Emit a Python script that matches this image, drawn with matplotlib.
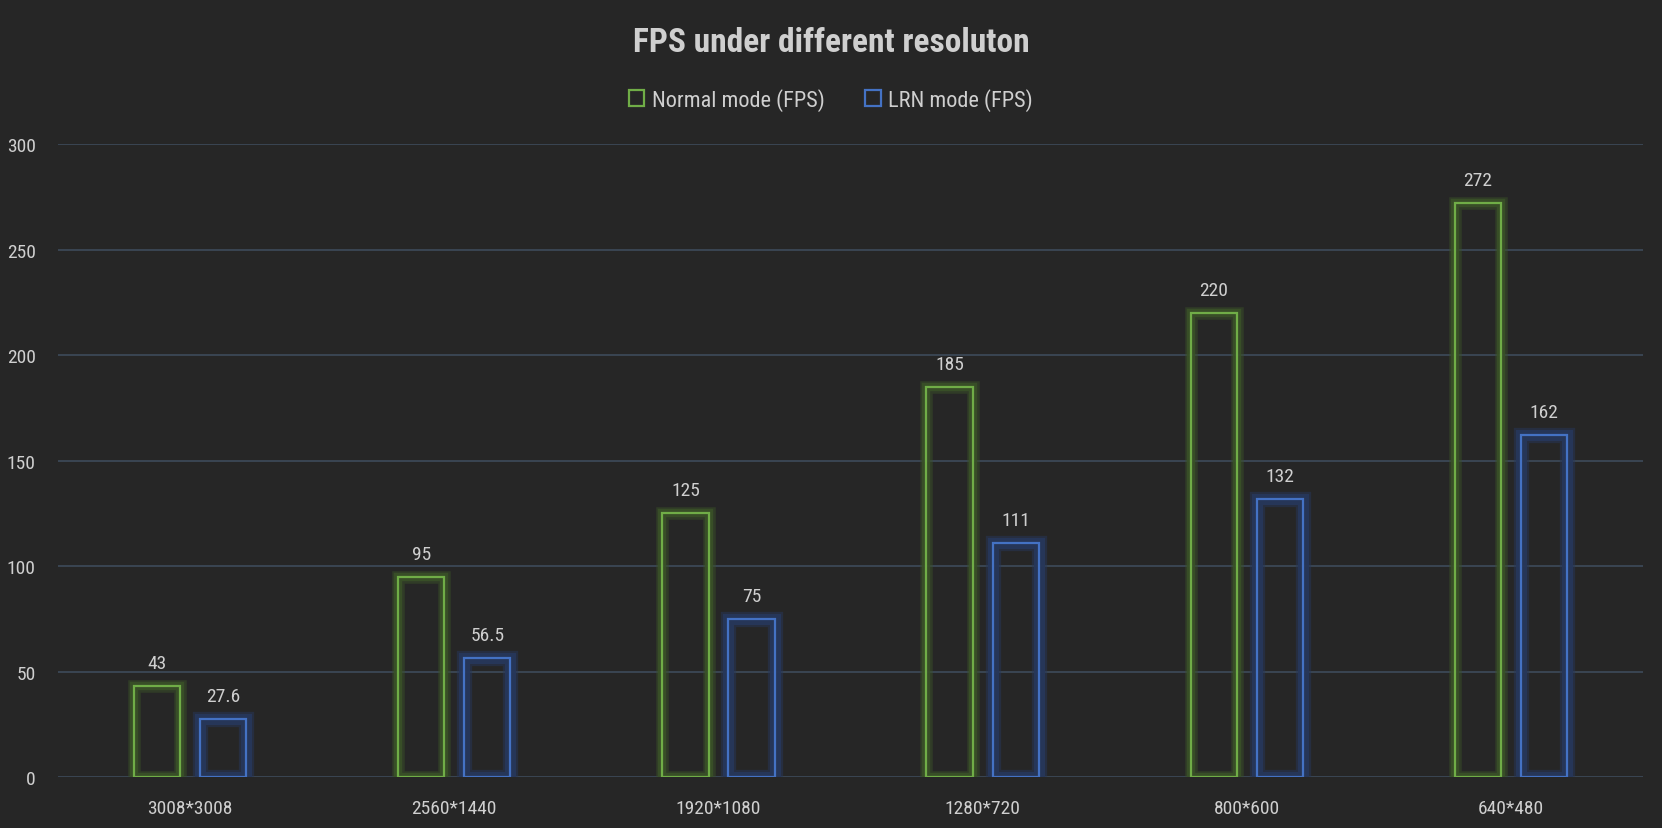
import matplotlib.pyplot as plt
from matplotlib.patches import Patch
import numpy as np

# data
resolutions = ['3008*3008', '2560*1440', '1920*1080', '1280*720', '800*600', '640*480']
normal_fps = [43, 95, 125, 185, 220, 272]
lrn_fps = [27.6, 56.5, 75, 111, 132, 162]
value_labels_normal = ['43', '95', '125', '185', '220', '272']
value_labels_lrn = ['27.6', '56.5', '75', '111', '132', '162']
y_ticks = [0, 50, 100, 150, 200, 250, 300]

bg = '#262626'
green = '#70ad47'
blue = '#4472c4'
green_glow = '#3a5128'
blue_glow = '#27375a'
text_col = '#cfcfcf'
grid_col = '#3a4553'

plt.rcParams['font.family'] = ['Roboto Condensed', 'DejaVu Sans']
plt.rcParams['font.stretch'] = 'condensed'

fig = plt.figure(figsize=(16.62, 8.29), dpi=100, facecolor=bg)
ax = fig.add_axes([0.0349, 0.0615, 0.9537, 0.7635], facecolor=bg)

x = np.arange(len(resolutions))
w = 0.175
off = 0.125

# soft glow behind the bars (wide faint layer + narrower stronger layer)
ax.bar(x - off, normal_fps, w, facecolor='none', edgecolor=green_glow,
       linewidth=9, alpha=0.5, zorder=2)
ax.bar(x - off, normal_fps, w, facecolor='none', edgecolor=green_glow,
       linewidth=6, alpha=0.9, zorder=2)
ax.bar(x + off, lrn_fps, w, facecolor='none', edgecolor=blue_glow,
       linewidth=11, alpha=0.5, zorder=2)
ax.bar(x + off, lrn_fps, w, facecolor='none', edgecolor=blue_glow,
       linewidth=8, alpha=0.95, zorder=2)
# bars
b1 = ax.bar(x - off, normal_fps, w, facecolor='none', edgecolor=green,
            linewidth=1.6, zorder=3)
b2 = ax.bar(x + off, lrn_fps, w, facecolor='none', edgecolor=blue,
            linewidth=1.6, zorder=3)

for rect, lab in zip(b1, value_labels_normal):
    ax.annotate(lab, (rect.get_x() + rect.get_width() / 2, rect.get_height()),
                xytext=(0, 10), textcoords='offset points', ha='center',
                va='bottom', color=text_col, fontsize=14)
for rect, lab in zip(b2, value_labels_lrn):
    ax.annotate(lab, (rect.get_x() + rect.get_width() / 2, rect.get_height()),
                xytext=(0, 10), textcoords='offset points', ha='center',
                va='bottom', color=text_col, fontsize=14)

ax.set_xlim(-0.5, len(resolutions) - 0.5)
ax.set_ylim(0, 300)
ax.set_yticks(y_ticks)
ax.set_xticks(x)
ax.set_xticklabels(resolutions)
ax.tick_params(axis='both', length=0, colors=text_col, labelsize=14)
ax.tick_params(axis='y', pad=16)
ax.tick_params(axis='x', pad=16)
ax.grid(axis='y', color=grid_col, linewidth=1.4, zorder=0)
ax.set_axisbelow(True)
for s in ax.spines.values():
    s.set_visible(False)

fig.text(0.5, 0.948, 'FPS under different resoluton', ha='center', va='center',
         color=text_col, fontsize=24, fontweight='bold')

handles = [Patch(facecolor='none', edgecolor=green, linewidth=1.6, label='Normal mode (FPS)'),
           Patch(facecolor='none', edgecolor=blue, linewidth=1.6, label='LRN mode (FPS)')]
leg = fig.legend(handles=handles, loc='center', bbox_to_anchor=(0.5, 0.879), ncol=2,
                 frameon=False, fontsize=16, handlelength=0.7, handleheight=0.7,
                 handletextpad=0.35, columnspacing=1.8)
for t in leg.get_texts():
    t.set_color(text_col)

fig.savefig('out.png', dpi=100, facecolor=bg)
